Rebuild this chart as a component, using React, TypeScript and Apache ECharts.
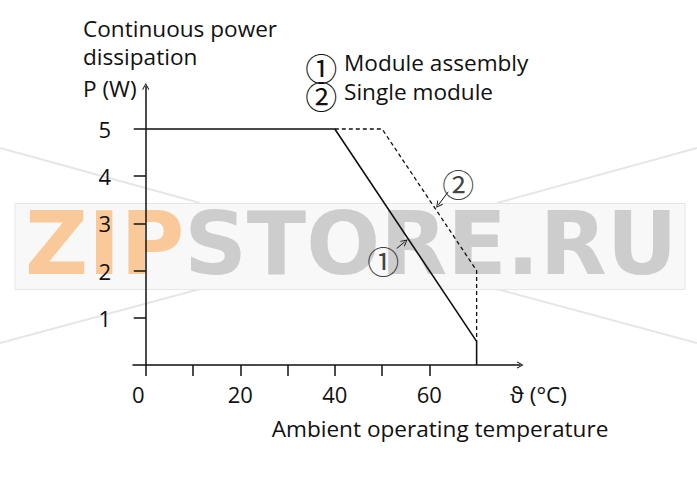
import React, { useEffect, useRef } from "react";
import * as echarts from "echarts";

// Data
const solidTemp = [0, 40, 70, 70];
const solidPower = [5, 5, 0.5, 0];
const dashedTemp = [40, 50, 70, 70];
const dashedPower = [5, 5, 2, 0.5];
const xTickValues = [0, 10, 20, 30, 40, 50, 60];
const xLabelValues = [0, 20, 40, 60];
const yTickValues = [1, 2, 3, 4, 5];
const legendItems = ["Module assembly", "Single module"];
const circledMarks = ["①", "②"];
// annotation anchors (data units): [labelX, labelY, arrowFromX, arrowFromY, arrowToX, arrowToY]
const annotations = [
  [50.27, 2.22, 53.1, 2.47, 54.8, 2.61],
  [66.13, 3.86, 64.0, 3.67, 61.9, 3.39],
];

const FONT = "'Open Sans', Roboto, 'DejaVu Sans', sans-serif";
const CIRCLE_FONT = "'Noto Sans CJK JP', 'DejaVu Sans', sans-serif";
const INK = "#111";
const CHEVRON = "path://M5 0 L10 9 L9 10 L5 2.6 L1 10 L0 9 Z";

export default function App() {
  const ref = useRef<HTMLDivElement>(null);
  useEffect(() => {
    if (!ref.current) return;
    const chart = echarts.init(ref.current, undefined, { renderer: "svg" });
    const solid = solidTemp.map((t, i) => [t, solidPower[i]]);
    const dashed = dashedTemp.map((t, i) => [t, dashedPower[i]]);
    const textStyleBase = { fontFamily: FONT, fontSize: 22.6, fill: INK };
    chart.setOption({
      animation: false,
      backgroundColor: "#fff",
      grid: { left: 133, top: 86.5, width: 387.1, height: 278.5 },
      xAxis: {
        type: "value",
        min: -2.7,
        max: 79.2,
        splitLine: { show: false },
        axisLine: {
          show: true,
          onZero: true,
          lineStyle: { color: INK, width: 1.5 },
          symbol: ["none", CHEVRON],
          symbolSize: [8, 7],
        },
        axisTick: { show: true, length: 11, inside: false, customValues: xTickValues, lineStyle: { color: INK, width: 1.5 } },
        axisLabel: {
          customValues: xLabelValues,
          margin: 18,
          color: INK,
          fontFamily: FONT,
          fontSize: 22,
          formatter: (v: number) => (v === 0 ? "{z|0}" : String(v)),
          rich: { z: { padding: [0, 15, 0, 0], fontFamily: FONT, fontSize: 22, color: INK } },
        },
      },
      yAxis: {
        type: "value",
        min: 0,
        max: 5.9,
        splitLine: { show: false },
        axisLine: {
          show: true,
          onZero: true,
          lineStyle: { color: INK, width: 1.5 },
          symbol: ["none", CHEVRON],
          symbolSize: [8, 7],
        },
        axisTick: { show: true, length: 12, inside: false, customValues: yTickValues, lineStyle: { color: INK, width: 1.5 } },
        axisLabel: { customValues: yTickValues, margin: 22, color: INK, fontFamily: FONT, fontSize: 22 },
      },
      series: [
        {
          type: "line",
          data: solid,
          symbol: "none",
          lineStyle: { color: INK, width: 1.6 },
          silent: true,
          z: 3,
          markLine: {
            silent: true,
            symbol: ["none", CHEVRON],
            symbolSize: [7, 7],
            label: { show: false },
            lineStyle: { color: INK, width: 1, type: "solid" },
            emphasis: { disabled: true },
            data: annotations.map((a) => [{ coord: [a[2], a[3]] }, { coord: [a[4], a[5]] }]),
          },
        },
        {
          type: "line",
          data: dashed,
          symbol: "none",
          lineStyle: { color: INK, width: 1.3, type: [4, 3] },
          silent: true,
          z: 3,
        },
        {
          type: "scatter",
          data: annotations.map((a, i) => [a[0], a[1], circledMarks[i]]),
          symbolSize: 1,
          itemStyle: { color: "rgba(0,0,0,0)" },
          silent: true,
          label: {
            show: true,
            position: "inside",
            formatter: (p: any) => p.value[2],
            fontFamily: CIRCLE_FONT,
            fontSize: 32,
            color: INK,
          },
        },
      ],
      graphic: [
        // watermark
        { type: "line", z: -10, shape: { x1: 0, y1: 148, x2: 200, y2: 203 }, style: { stroke: "#e6e6e6", lineWidth: 2 } },
        { type: "line", z: -10, shape: { x1: 0, y1: 343, x2: 200, y2: 289 }, style: { stroke: "#e6e6e6", lineWidth: 2 } },
        { type: "line", z: -10, shape: { x1: 697, y1: 148, x2: 497, y2: 203 }, style: { stroke: "#e6e6e6", lineWidth: 2 } },
        { type: "line", z: -10, shape: { x1: 697, y1: 343, x2: 497, y2: 289 }, style: { stroke: "#e6e6e6", lineWidth: 2 } },
        { type: "rect", z: -9, shape: { x: 15, y: 203.5, width: 670, height: 86 }, style: { fill: "#f8f8f8", stroke: "#e6e6e6", lineWidth: 1 } },
        {
          type: "text",
          z: -8,
          x: 25,
          y: 244,
          style: {
            text: "{a|ZIP}{b|STORE.RU}",
            verticalAlign: "middle",
            rich: {
              a: { fontFamily: "'DejaVu Sans'", fontWeight: "bold", fontSize: 87, fill: "#f9c99a" },
              b: { fontFamily: "'DejaVu Sans'", fontWeight: "bold", fontSize: 87, fill: "#cdcdcd" },
            },
          },
        },
        // titles
        { type: "text", x: 83, y: 28.5, style: { ...textStyleBase, text: "Continuous power", verticalAlign: "middle" } },
        { type: "text", x: 83, y: 56.3, style: { ...textStyleBase, text: "dissipation", verticalAlign: "middle" } },
        { type: "text", x: 83, y: 88.5, style: { ...textStyleBase, text: "P (W)", verticalAlign: "middle" } },
        // legend
        { type: "text", x: 321.3, y: 67, style: { fontFamily: CIRCLE_FONT, fontSize: 32, fill: INK, text: circledMarks[0], align: "center", verticalAlign: "middle" } },
        { type: "text", x: 344, y: 62, style: { ...textStyleBase, text: legendItems[0], verticalAlign: "middle" } },
        { type: "text", x: 321.3, y: 94.5, style: { fontFamily: CIRCLE_FONT, fontSize: 32, fill: INK, text: circledMarks[1], align: "center", verticalAlign: "middle" } },
        { type: "text", x: 344, y: 91.2, style: { ...textStyleBase, text: legendItems[1], verticalAlign: "middle" } },
        // axis names
        { type: "text", x: 510, y: 394.5, style: { ...textStyleBase, text: "ϑ (°C)", verticalAlign: "middle" } },
        { type: "text", x: 271.7, y: 428, style: { ...textStyleBase, text: "Ambient operating temperature", verticalAlign: "middle" } },
      ],
    });
    return () => chart.dispose();
  }, []);
  return (
    <div
      ref={ref}
      style={{ position: "absolute", left: 0, top: 0, width: 697, height: 496, background: "#fff" }}
    />
  );
}
